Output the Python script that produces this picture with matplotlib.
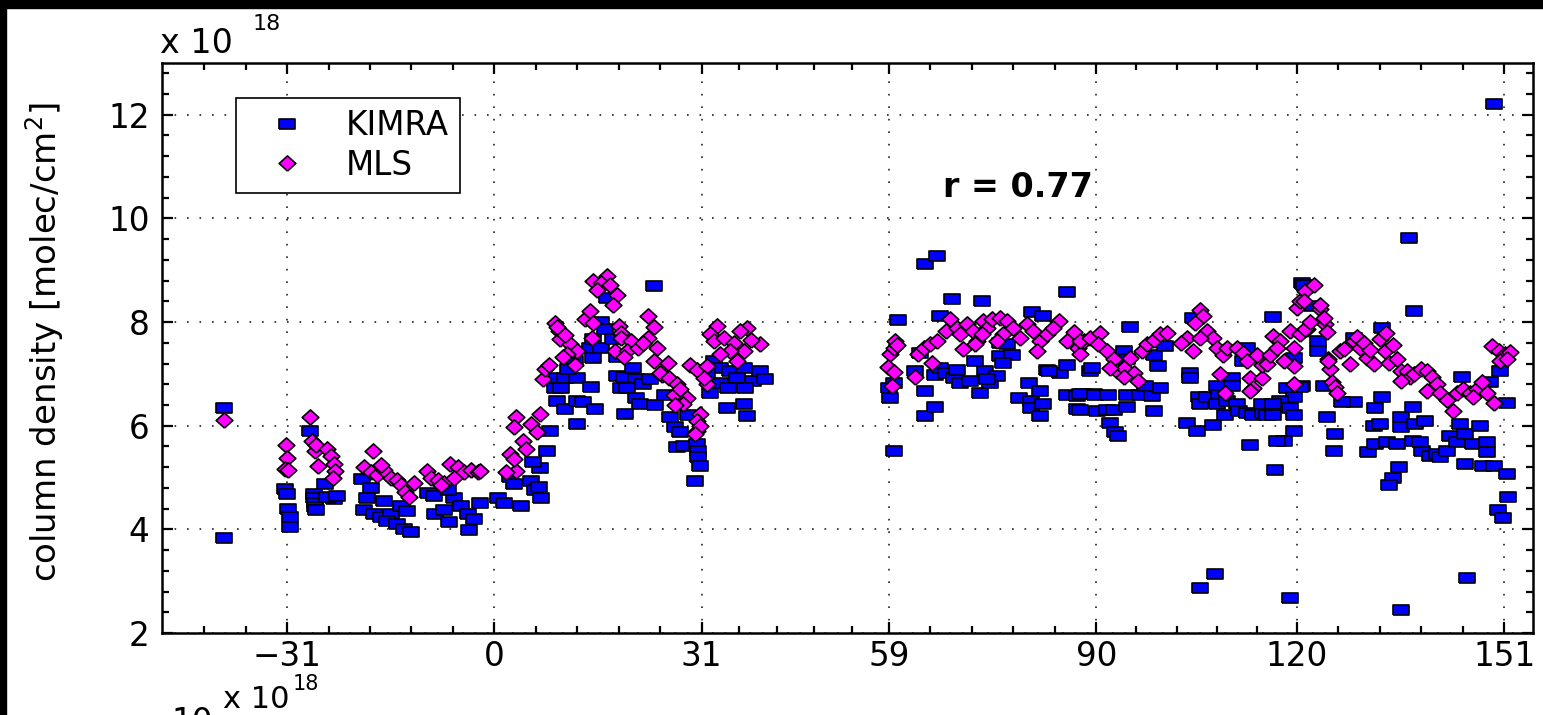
import numpy as np
import matplotlib.pyplot as plt
from matplotlib.patches import Rectangle

# day of year (relative) and column density [1e18 molec/cm^2]
kimra_pts = np.array([
    (-40.4, 6.34), (-40.4, 3.83),
    (-31.3, 4.78), (-31.0, 4.69), (-30.8, 4.40), (-30.6, 4.24), (-30.5, 4.04),
    (-27.6, 5.90), (-27.0, 4.68), (-27.0, 4.60), (-26.8, 4.50), (-26.8, 4.44), (-26.6, 4.38),
    (-25.3, 4.88), (-24.0, 4.59), (-25.0, 4.62), (-23.5, 4.65),
    (-19.8, 4.97), (-18.5, 4.80), (-19.0, 4.60), (-19.5, 4.37), (-18.0, 4.30), (-17.0, 4.24),
    (-15.5, 4.30), (-16.0, 4.17), (-14.5, 4.10), (-13.5, 4.00), (-12.5, 3.95), (-14.0, 4.45),
    (-16.5, 4.55), (-13.0, 4.35),
    (-10.0, 4.70), (-8.9, 4.30), (-7.5, 4.37), (-6.8, 4.14), (-6.0, 4.60), (-5.0, 4.45),
    (-4.0, 4.30), (-3.8, 3.98), (-2.2, 4.50), (-3.0, 4.20), (-9.0, 4.65), (-7.0, 4.75),
    (0.5, 4.60), (1.5, 4.50), (2.3, 5.01), (3.0, 4.88), (4.0, 4.45), (5.5, 4.94), (6.0, 4.75),
    (6.6, 4.81), (7.0, 4.60), (6.8, 5.19), (7.8, 5.52), (8.3, 5.90), (5.8, 5.30),
    (9.4, 6.92), (10.5, 6.92), (12.3, 6.92), (9.0, 6.73), (10.0, 6.73), (9.4, 6.48), (10.6, 6.33),
    (12.3, 6.48), (13.3, 6.45), (15.1, 6.33), (12.3, 6.03), (14.5, 6.75), (14.8, 7.31),
    (14.3, 7.50), (11.0, 7.10), (12.0, 7.25),
    (16.8, 8.47), (16.0, 8.00), (16.5, 7.86), (14.8, 7.67), (16.0, 7.50), (17.8, 7.67),
    (23.8, 8.69),
    (18.3, 6.96), (18.9, 6.73), (19.4, 6.94), (20.7, 7.12), (21.2, 6.90), (22.2, 6.80),
    (23.2, 6.90), (19.9, 6.73), (21.2, 6.54), (19.6, 6.22), (21.7, 6.42), (24.0, 6.39), (18.3, 7.32),
    (26.3, 6.16), (27.0, 5.98), (27.8, 5.88), (27.3, 5.58), (28.3, 5.61), (30.3, 5.64),
    (30.5, 5.52), (30.5, 5.39), (30.8, 5.23), (30.0, 4.94), (29.0, 6.20), (25.5, 6.60),
    (32.8, 7.24), (33.8, 7.12), (35.3, 7.05), (36.3, 6.92), (37.3, 7.12), (39.7, 7.05),
    (38.7, 6.86), (33.7, 6.83), (35.0, 6.73), (37.5, 6.73), (32.3, 6.64), (34.8, 6.35),
    (37.3, 6.42), (37.7, 6.19), (40.5, 6.90), (31.8, 7.00),
    (60.4, 8.03), (59.7, 5.52), (59.2, 6.54), (59.0, 6.73), (59.8, 6.83),
    (64.4, 9.12), (66.2, 9.27), (64.4, 6.19), (65.9, 6.37), (64.4, 6.67), (62.9, 7.06),
    (65.9, 6.98), (66.6, 8.12), (63.7, 7.40),
    (68.4, 8.44), (72.9, 8.40), (66.6, 7.12), (67.6, 7.02), (68.8, 6.92), (69.6, 6.83),
    (71.1, 6.86), (71.8, 7.24), (72.6, 6.64), (73.3, 7.06), (74.1, 6.83), (69.1, 7.08),
    (80.4, 8.20), (82.1, 8.12), (75.6, 7.60), (76.6, 7.57), (75.6, 7.34), (77.4, 7.37),
    (76.1, 7.21), (75.1, 6.96), (73.6, 6.90), (78.4, 6.54), (79.9, 6.83), (80.2, 6.48),
    (80.2, 6.35), (81.6, 6.19), (82.1, 6.42), (81.6, 6.67),
    (85.6, 8.58), (82.6, 7.08), (84.6, 7.02), (85.6, 7.18), (82.9, 7.05), (85.6, 6.60),
    (87.1, 6.57), (87.1, 6.32), (89.1, 7.05), (89.7, 6.62), (88.0, 6.62),
    (95.1, 7.90), (89.3, 7.12), (94.1, 7.44), (94.6, 7.28), (98.6, 7.37), (99.3, 7.15), (100.3, 7.53),
    (87.6, 6.62), (89.8, 6.60), (91.8, 6.60), (94.6, 6.60), (96.6, 6.60), (98.3, 6.57), (99.6, 6.72),
    (87.6, 6.31), (90.1, 6.28), (91.6, 6.31), (92.6, 6.31), (94.6, 6.37), (98.6, 6.28),
    (92.1, 6.06), (92.8, 5.87), (93.3, 5.80), (97.3, 6.76),
    (104.5, 8.08), (104.0, 7.02), (104.0, 6.92), (105.3, 6.55), (105.5, 6.42), (106.5, 6.55),
    (108.0, 6.76), (108.3, 6.60), (108.0, 6.42), (109.5, 6.48), (110.3, 6.92), (110.3, 6.76),
    (103.5, 6.06), (105.0, 5.90), (107.5, 6.02), (109.3, 6.21), (111.0, 6.42),
    (112.5, 7.50), (112.0, 7.24), (111.3, 6.28), (112.5, 6.25), (113.5, 6.21), (115.0, 6.25),
    (114.8, 6.42), (113.0, 5.62), (116.7, 5.15),
    (116.5, 8.10), (120.8, 8.75), (118.5, 6.73), (119.5, 6.55), (117.5, 6.48), (116.5, 6.42),
    (115.5, 6.21), (116.5, 6.21), (119.0, 6.34), (119.5, 6.21), (119.5, 5.90), (118.0, 5.71),
    (117.0, 5.71), (119.5, 7.31), (120.8, 6.76),
    (105.5, 2.86), (107.8, 3.13), (118.9, 2.68), (135.6, 2.44), (145.5, 3.07),
    (149.5, 12.20), (136.8, 9.63), (137.5, 8.21),
    (121.0, 8.72), (122.2, 8.30), (123.2, 7.63), (123.2, 7.44), (120.5, 6.74), (124.0, 6.77),
    (124.5, 6.16), (125.7, 5.84), (125.5, 5.52),
    (132.7, 7.89), (128.5, 7.70), (144.7, 6.94), (150.4, 7.06), (148.9, 6.84), (151.4, 6.43),
    (128.5, 6.46), (126.7, 6.46), (131.7, 6.34), (132.7, 6.56),
    (130.7, 5.49), (131.7, 5.65), (131.5, 6.00), (132.5, 6.03), (133.5, 5.68), (135.0, 5.65),
    (135.5, 6.16), (135.5, 5.97), (137.4, 6.36), (137.7, 6.03), (137.4, 5.71), (138.7, 5.52),
    (139.2, 6.10), (138.4, 5.68), (139.9, 5.42), (140.9, 5.45), (141.4, 5.39), (142.4, 5.52),
    (142.9, 5.81), (143.9, 5.68), (144.4, 6.03), (145.2, 5.84), (146.4, 5.65), (147.4, 6.00),
    (148.4, 5.68), (148.4, 5.49),
    (145.2, 5.26), (147.9, 5.23), (149.4, 5.23), (151.4, 5.07), (151.6, 4.63), (135.2, 5.20),
    (134.4, 5.00), (133.7, 4.85), (150.0, 4.37), (150.8, 4.22),
])

mls_pts = np.array([
    (-40.4, 6.11),
    (-31.2, 5.63), (-31.0, 5.38), (-31.3, 5.17), (-30.8, 5.15),
    (-27.6, 6.17), (-27.2, 5.71), (-26.8, 5.52), (-26.6, 5.62), (-26.4, 5.23),
    (-25.0, 5.55), (-24.5, 5.42), (-24.0, 5.26), (-23.8, 5.13), (-24.2, 5.00),
    (-18.1, 5.52), (-19.5, 5.20), (-18.5, 5.10), (-17.5, 5.05), (-16.5, 5.15), (-15.5, 5.00),
    (-14.5, 4.95), (-14.0, 4.85), (-13.3, 4.72), (-12.8, 4.62), (-12.0, 4.90), (-17.0, 5.25),
    (-10.1, 5.13), (-9.5, 5.00), (-8.5, 4.95), (-7.5, 4.90), (-6.6, 5.26), (-5.5, 5.20),
    (-4.5, 5.10), (-3.5, 5.15), (-2.5, 5.10), (-6.0, 5.00), (-8.0, 4.85), (-2.1, 5.13),
    (3.3, 6.16), (6.8, 6.23), (3.0, 5.98), (5.5, 6.03), (6.3, 5.88), (4.3, 5.71), (2.3, 5.45),
    (3.3, 5.13), (3.0, 5.36), (4.8, 5.55), (1.8, 5.10),
    (7.3, 6.90), (7.6, 7.10), (8.1, 7.17), (9.1, 7.99), (9.6, 7.83), (9.8, 7.67), (11.3, 7.58),
    (12.3, 7.45), (10.8, 7.38), (12.1, 7.17), (10.3, 7.32), (9.3, 7.90), (10.5, 7.75),
    (14.8, 8.79), (16.8, 8.88), (16.0, 8.76), (15.3, 8.62), (17.3, 8.72), (18.3, 8.52),
    (17.8, 8.33), (13.6, 8.05), (14.3, 8.21), (14.8, 7.99), (14.6, 7.70), (18.6, 7.92),
    (18.9, 7.79), (18.1, 7.45),
    (23.0, 8.12), (23.8, 7.90), (18.9, 7.70), (20.4, 7.63), (19.9, 7.45), (21.4, 7.50),
    (22.9, 7.70), (24.3, 7.50), (23.8, 7.24), (26.0, 7.21), (25.0, 6.98), (19.4, 7.32), (22.2, 7.60),
    (24.8, 7.02), (26.1, 6.92), (27.3, 6.80), (26.8, 6.60), (27.8, 6.70), (28.8, 6.54),
    (28.2, 6.42), (27.0, 6.39), (29.3, 7.18), (30.3, 7.08), (30.8, 6.22), (30.3, 6.10),
    (30.3, 5.90), (30.8, 6.00), (30.0, 5.84),
    (33.3, 7.92), (32.3, 7.77), (32.8, 7.63), (34.3, 7.70), (37.7, 7.88), (36.7, 7.83),
    (35.8, 7.60), (37.3, 7.45), (39.7, 7.58), (38.4, 7.65), (35.3, 7.45), (33.8, 7.38),
    (31.8, 7.15), (31.8, 6.80), (31.3, 6.92), (36.3, 7.24),
    (59.9, 7.63), (59.2, 7.38), (59.7, 7.50), (58.9, 7.13), (59.7, 7.03), (59.4, 6.77), (60.2, 7.56),
    (62.9, 6.93), (63.4, 7.38), (64.2, 7.50), (65.4, 7.21), (65.2, 7.57), (66.2, 7.63),
    (68.1, 8.05), (67.6, 7.83), (69.1, 7.89), (70.6, 7.96), (69.6, 7.76), (70.1, 7.48),
    (71.6, 7.83), (72.1, 7.63), (73.1, 8.02), (73.6, 7.89), (72.9, 7.76), (71.9, 7.57),
    (74.4, 8.05), (75.6, 8.08), (76.6, 8.02), (77.6, 7.89), (78.6, 7.70), (79.6, 7.96),
    (80.6, 7.83), (81.6, 7.63), (81.1, 7.44), (82.6, 7.76), (76.1, 7.76), (75.1, 7.63),
    (84.4, 8.02), (86.6, 7.80), (85.6, 7.63), (87.3, 7.50), (88.1, 7.63), (87.6, 7.38), (83.6, 7.89),
    (87.6, 7.63), (89.1, 7.70), (90.6, 7.79), (90.3, 7.57), (91.6, 7.44), (92.6, 7.28),
    (93.1, 7.06), (94.1, 7.12), (95.1, 7.31), (95.6, 7.02), (96.3, 6.87), (96.8, 7.44),
    (97.6, 7.57), (98.6, 7.66), (99.6, 7.76), (100.6, 7.79), (94.1, 6.94), (92.1, 7.12),
    (105.5, 8.24), (106.0, 8.12), (104.8, 7.99), (103.6, 7.70), (102.6, 7.60), (104.5, 7.44),
    (106.5, 7.83), (107.5, 7.70), (108.0, 7.50), (109.0, 7.37), (108.5, 6.99), (109.3, 6.64),
    (109.5, 7.50), (105.5, 7.70),
    (111.0, 7.50), (112.0, 7.40), (112.5, 7.24), (113.0, 6.92), (113.5, 6.73), (113.0, 6.67),
    (114.8, 6.92), (114.8, 7.18), (114.0, 7.37),
    (115.5, 7.20), (116.0, 7.37), (116.5, 7.73), (117.5, 7.63), (117.0, 7.50), (119.0, 7.83),
    (119.5, 7.50), (119.5, 7.15), (119.5, 6.81), (118.0, 7.24), (120.0, 8.28), (120.5, 8.40),
    (121.2, 8.60), (121.5, 7.86), (120.5, 7.76),
    (122.5, 8.72), (121.0, 8.41), (123.5, 8.26), (124.2, 7.96), (124.5, 7.80), (121.2, 7.87),
    (122.0, 8.00), (123.5, 8.33), (124.0, 8.07), (124.6, 7.29), (125.0, 7.10), (125.3, 6.85),
    (126.5, 7.44), (124.7, 7.25), (125.7, 6.74), (126.0, 6.63), (128.0, 7.19), (128.5, 7.63),
    (129.5, 7.50), (130.5, 7.31), (131.5, 7.19), (132.5, 7.67), (133.2, 7.44), (133.7, 7.21),
    (135.0, 7.28), (135.5, 7.06), (136.4, 7.06), (136.9, 6.93), (135.5, 6.87),
    (127.0, 7.48), (129.0, 7.71), (130.0, 7.60), (131.0, 7.46), (133.3, 7.79), (134.3, 7.56),
    (137.5, 7.00), (138.5, 7.10),
    (139.4, 7.06), (140.2, 6.93), (140.9, 6.81), (139.4, 6.67), (141.4, 6.63), (142.4, 6.50),
    (143.4, 6.29), (143.9, 6.63), (144.9, 6.70), (145.9, 6.63), (146.9, 6.70), (147.7, 6.84),
    (148.4, 6.63), (149.4, 6.44), (146.4, 6.56),
    (149.1, 7.54), (150.2, 7.44), (151.1, 7.39), (151.9, 7.42), (150.4, 7.25), (151.4, 7.28),
])

xtick_pos = [-31, 0, 31, 59, 90, 120, 151]
ytick_pos = [2, 4, 6, 8, 10, 12]

plt.rcParams['font.family'] = 'DejaVu Sans'

fig = plt.figure(figsize=(15.43, 7.15), dpi=100)
ax = fig.add_axes([0.105, 0.1147, 0.8885, 0.7973])

rect_marker = [(-1.5, -1), (1.5, -1), (1.5, 1), (-1.5, 1), (-1.5, -1)]
diam_marker = [(0, -1), (1.1, 0), (0, 1), (-1.1, 0), (0, -1)]

ax.plot(kimra_pts[:, 0], kimra_pts[:, 1], linestyle='none', marker=rect_marker,
        ms=11, mfc='#0000ff', mec='black', mew=1.2, label='KIMRA')
ax.plot(mls_pts[:, 0], mls_pts[:, 1], linestyle='none', marker=diam_marker,
        ms=12, mfc='#ff00ff', mec='black', mew=1.2, label='MLS')

ax.set_xlim(-49.7, 155.3)
ax.set_ylim(2, 13)
ax.set_xticks(xtick_pos)
ax.set_yticks(ytick_pos)

# five minor steps in every month
minor_x = []
for a, b in zip(xtick_pos[:-1], xtick_pos[1:]):
    minor_x += list(np.linspace(a, b, 6)[1:-1])
minor_x += [-31 - 6.2 * k for k in (1, 2)]
ax.set_xticks(minor_x, minor=True)
ax.set_yticks(np.arange(2, 13.01, 0.4), minor=True)

ax.grid(True, which='major', color='#222222', linestyle=(0, (1, 6.5)), linewidth=1.2)
ax.tick_params(which='both', direction='in', top=True, right=True, labelsize=23.5, width=1.6)
ax.tick_params(which='major', length=8)
ax.tick_params(which='minor', length=5)
ax.tick_params(axis='y', pad=9)
ax.tick_params(axis='x', pad=5)
for s in ax.spines.values():
    s.set_linewidth(1.8)

fig.text(45 / 1543, 373 / 715, 'column density [molec/cm$^{2}$]', fontsize=24.5,
         rotation=90, ha='center', va='center')

ax.text(0.624, 0.782, 'r = 0.77', transform=ax.transAxes, fontsize=24,
        fontweight='bold', ha='center', va='center')

leg = ax.legend(loc='upper left', bbox_to_anchor=(0.054, 0.9386), fontsize=23.5,
                frameon=True, fancybox=False, edgecolor='black', borderpad=0.35,
                handletextpad=0.6, labelspacing=0.2, handlelength=2.4, borderaxespad=0)
leg.get_frame().set_linewidth(1.2)
leg.get_frame().set_alpha(1)

# offset labels (values are in units of 1e18), exponent raised as in the original
fig.text(0.1037, 0.926, 'x 10', fontsize=24, ha='left', va='baseline')
fig.text(0.164, 0.958, '18', fontsize=16, ha='left', va='baseline')
fig.text(0.1445, 0.0098, 'x 10', fontsize=22, ha='left', va='baseline')
fig.text(0.19, 0.035, '18', fontsize=15, ha='left', va='baseline')
fig.text(0.138, -0.024, '10', fontsize=23.5, ha='right', va='baseline')

# black strips at top and left edge of the screenshot
fig.patches.append(Rectangle((0, 0.9888), 1, 0.0112, transform=fig.transFigure,
                             color='black', zorder=10))
fig.patches.append(Rectangle((0, 0), 0.0039, 1, transform=fig.transFigure,
                             color='black', zorder=10))

fig.savefig('out.png', dpi=100)
